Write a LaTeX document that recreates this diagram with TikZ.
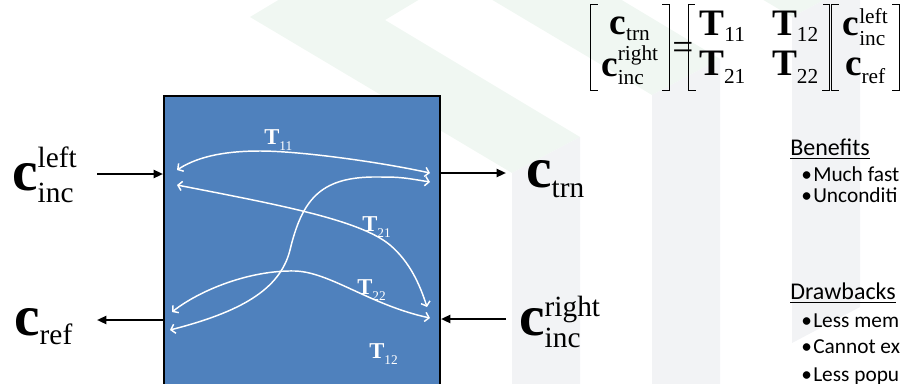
\documentclass[tikz,border=0pt]{standalone}
\usepackage{amsmath}
\usepackage{fontspec}
\setmainfont{Liberation Serif}
\newfontfamily\calibri{Carlito}
\usetikzlibrary{arrows.meta, positioning}
\definecolor{slabblue}{RGB}{79, 129, 189}
\definecolor{markgreen}{RGB}{240, 247, 242}
\definecolor{markgray}{RGB}{242, 243, 245}
\DeclareMathSizes{43}{43}{22}{16}
\DeclareMathSizes{28}{28}{16}{12}
\DeclareMathSizes{17}{17}{10}{8}
% script text shifted by hand
\newcommand{\scr}[2]{\raisebox{#1}{$\scriptstyle\textrm{#2}$}}

\begin{document}
\begin{tikzpicture}[x=0.75pt, y=-0.75pt,
    port/.style={line width=1.6pt, -{Triangle[length=7pt, width=6pt]}},
    wave/.style={white, line width=1.1pt, {Straight Barb[length=3pt, width=7pt]}-{Straight Barb[length=3pt, width=7pt]}},
    clabel/.style={inner sep=0pt, anchor=base west, font=\fontsize{43}{43}\selectfont},
    tlabel/.style={inner sep=0pt, anchor=base west, text=white, font=\fontsize{17}{17}\selectfont},
    colvec/.style={inner ysep=0pt, inner xsep=8pt, minimum height=64pt, font=\fontsize{28}{30}\selectfont},
    brk/.style={line width=0.9pt, line cap=rect},
    item/.style={inner sep=0pt, anchor=base west, font=\calibri\fontsize{16}{16}\selectfont}]
  \useasboundingbox (0,0) rectangle (906,383);
  \clip (0,0) rectangle (906,383);

  % faint slide watermark
  \foreach \k in {0,1,2} {
    \begin{scope}[shift={(140*\k,-78*\k)}]
      \fill[markgreen] (250,17) -- (512,173) -- (580,137) -- (385,20) -- (752,-200) -- (612,-200) -- cycle;
      \fill[markgray] (512,173) -- (580,137) -- (580,463) -- (512,499) -- cycle;
    \end{scope}
  }

  % the slab
  \node[draw, line width=1.5pt, fill=slabblue, inner sep=0pt, anchor=north west,
        minimum width=207pt, minimum height=240pt] (slab) at (163,95) {};

  % mode coefficients outside
  \node[clabel] (cincL) at (12,190) {$\textbf{c}^{\scr{4.5pt}{left}}_{\scr{-3pt}{inc}}$};
  \node[clabel] (cref) at (14,335) {$\textbf{c}_{\textrm{ref}}$};
  \node[clabel] (ctrn) at (526,187) {$\textbf{c}_{\scr{-4pt}{trn}}$};
  \node[clabel] (cincR) at (519,335) {$\textbf{c}^{\scr{2pt}{right}}_{\scr{-3pt}{inc}}$};

  \coordinate (inLeft) at (97,174);
  \coordinate (refLeft) at (97,320);
  \coordinate (trnRight) at (506,173);
  \coordinate (incRight) at (506,319);
  \draw[port] (inLeft) -- (inLeft -| slab.west);
  \draw[port] (refLeft -| slab.west) -- (refLeft);
  \draw[port] (trnRight -| slab.east) -- (trnRight);
  \draw[port] (incRight) -- (incRight -| slab.east);

  % paths through the slab
  \coordinate (w11a) at (177,170); \coordinate (w11b) at (430,173);
  \coordinate (w21a) at (177,185); \coordinate (w21b) at (427,307);
  \coordinate (w12a) at (170,330); \coordinate (w12b) at (430,182);
  \coordinate (w22a) at (172,312); \coordinate (w22b) at (430,318);
  \draw[wave] (w11a) .. controls (200,155) and (230,151) .. (260,151)
                     .. controls (300,151) and (380,162) .. (w11b);
  \draw[wave] (w21a) .. controls (280,205) and (360,220) .. (390,245)
                     .. controls (410,262) and (420,285) .. (w21b);
  \draw[wave] (w12a) .. controls (240,312) and (280,290) .. (290,250)
                     .. controls (302,200) and (320,178) .. (372,177)
                     .. controls (400,177) .. (w12b);
  \draw[wave] (w22a) .. controls (200,290) and (250,270) .. (295,271)
                     .. controls (330,272) and (370,305) .. (w22b);

  \node[tlabel] (t11) at (264,144) {$\textbf{T}_{\scr{-2pt}{11}}$};
  \node[tlabel] (t21) at (362,231) {$\textbf{T}_{\scr{-2pt}{21}}$};
  \node[tlabel] (t22) at (357,294) {$\textbf{T}_{\scr{-2pt}{22}}$};
  \node[tlabel] (t12) at (369,358) {$\textbf{T}_{\scr{-2pt}{12}}$};

  % scattering matrix
  \node[colvec] (mL) at (630,47.5)
    {$\begin{matrix}\textbf{c}_{\scr{-1pt}{trn}}\\ \textbf{c}^{\textrm{right}}_{\scr{-2pt}{inc}}\end{matrix}$};
  \node[anchor=base, inner sep=0pt, font=\fontsize{28}{30}\selectfont] (eq) at (683,59) {=};
  \node[colvec] (mT) at (759,47.5)
    {\setlength{\arraycolsep}{9.75pt}%
     $\begin{matrix}\textbf{T}_{\scr{-1pt}{11}} & \textbf{T}_{\scr{-1pt}{12}}\\
      \textbf{T}_{\scr{-2pt}{21}} & \textbf{T}_{\scr{-2pt}{22}}\end{matrix}$};
  \node[colvec] (mR) at (865.5,47.5)
    {$\begin{matrix}\textbf{c}^{\textrm{left}}_{\scr{-1pt}{inc}}\\ \textbf{c}_{\scr{-2pt}{ref}}\end{matrix}$};
  \foreach \m in {mL, mT, mR} {
    \draw[brk] ([xshift=5pt]\m.north west) -| (\m.south west) -- ++(7,0);
    \draw[brk] ([xshift=-5pt]\m.north east) -| (\m.south east) -- ++(-7,0);
  }

  % pros and cons
  \node[item, font=\calibri\fontsize{18}{18}\selectfont] (benefits) at (790,155) {\underline{Benefits}};
  \node[item, font=\calibri\fontsize{18}{18}\selectfont] (drawbacks) at (790,299) {\underline{Drawbacks}};
  \foreach \txt/\yy in {Much fast/181, Unconditi/202, Less mem/327, Cannot ex/353, Less popu/381}
    \node[item] (item\yy) at (801,\yy) {\makebox[9pt][l]{\textbullet}\txt};
\end{tikzpicture}
\end{document}
